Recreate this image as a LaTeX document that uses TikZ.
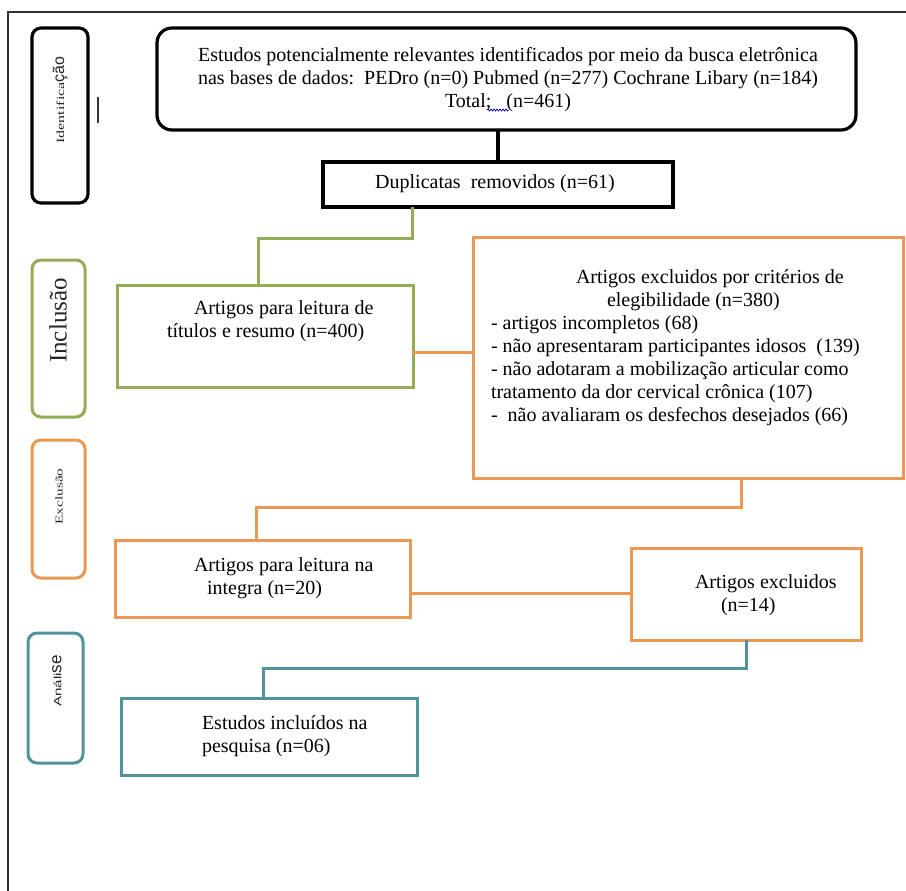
\documentclass[tikz,border=0pt]{standalone}
\usepackage{fontspec}
\setmainfont{Liberation Serif}
\newfontfamily\lsans{Liberation Sans}
\usetikzlibrary{calc,decorations.pathmorphing}
\definecolor{grn}{RGB}{148,172,86}
\definecolor{org}{RGB}{234,152,82}
\definecolor{tealc}{RGB}{82,146,158}
\begin{document}
\begin{tikzpicture}[x=1pt,y=-1pt,
  every node/.style={inner sep=0pt, outer sep=0pt},
  blkbox/.style={draw=black, line width=3.2pt, rectangle},
  grnbox/.style={draw=grn, line width=3pt, rectangle},
  orgbox/.style={draw=org, line width=3pt, rectangle},
  tealbox/.style={draw=tealc, line width=3pt, rectangle},
  blkline/.style={draw=black, line width=3.2pt},
  grnline/.style={draw=grn, line width=3pt},
  orgline/.style={draw=org, line width=3pt},
  tealline/.style={draw=tealc, line width=3pt},
  txt/.style={font=\fontsize{20}{23}\selectfont, text=black},
  lbl/.style={rotate=90, text=black!85}
]
\useasboundingbox (0,0) rectangle (906,891);

% outer frame
\draw[line width=1.5pt, black!80] (906,12) -- (8,12) -- (8,891);
\draw[line width=1.5pt, black!80] (98,97) -- (98,123);

% side labels
\node[blkbox, rounded corners=9pt, minimum width=56pt, minimum height=175pt] (idlab) at (60,115.5) {};
\node[grnbox, rounded corners=9pt, minimum width=53pt, minimum height=157pt] (inclab) at (58.5,338.5) {};
\node[orgbox, rounded corners=9pt, minimum width=53pt, minimum height=138pt] (exclab) at (58.5,509) {};
\node[tealbox, rounded corners=9pt, minimum width=55pt, minimum height=130pt] (analab) at (55.5,698) {};

\node[lbl] (idtxt) at (60,100) {\scalebox{1.45}[1]{\fontsize{11}{13}\selectfont Identifica}{\lsans\fontsize{16}{18}\selectfont ção}};
\node[lbl] (inctxt) at (58,320.5) {\fontsize{25}{28}\selectfont Inclusão};
\node[lbl] (exctxt) at (59,496.5) {\scalebox{1.45}[1]{\fontsize{10.5}{12}\selectfont Exclusão}};
\node[lbl] (anatxt) at (57,681) {\lsans\scalebox{1.45}[1]{\fontsize{10.5}{12}\selectfont Análi}\fontsize{17}{19}\selectfont se};

% main boxes
\node[blkbox, rounded corners=15pt, minimum width=699pt, minimum height=102pt] (top) at (506.5,79) {};
\node[blkbox, minimum width=350pt, minimum height=45pt] (dup) at (498,184.5) {};
\node[grnbox, minimum width=296pt, minimum height=102pt] (tit) at (265,336) {};
\node[orgbox, minimum width=430pt, minimum height=241pt] (big) at (688,357.5) {};
\node[orgbox, minimum width=295pt, minimum height=77pt] (full) at (262.5,578.5) {};
\node[orgbox, minimum width=230pt, minimum height=92pt] (ex14) at (746,594) {};
\node[tealbox, minimum width=296pt, minimum height=77pt] (incl) at (269,736.5) {};

% texts
\node[txt, align=center] (toptxt) at (508,80) {Estudos potencialmente relevantes identificados por meio da busca eletrônica\\
nas bases de dados:\ \ PEDro (n=0) Pubmed (n=277) Cochrane Libary (n=184)\\
Total;\ \ \ (n=461)};
\draw[blue!70!black, line width=0.7pt, decorate, decoration={snake, amplitude=1pt, segment length=3pt}] (487,110) -- (509,110);
\node[txt] (duptxt) at (495,184) {Duplicatas\ \ removidos (n=61)};
\node[txt, align=left, anchor=west] (tittxt) at (167,321.5) {\hspace*{27pt}Artigos para leitura de\\títulos e resumo (n=400)};
\node[txt, align=left, anchor=west] (bigtxt) at (491,348) {\hspace*{85pt}Artigos excluidos por critérios de\\
\hspace*{116pt}elegibilidade (n=380)\\
- artigos incompletos (68)\\
- não apresentaram participantes idosos\ \ (139)\\
- não adotaram a mobilização articular como\\
tratamento da dor cervical crônica (107)\\
-\ \ não avaliaram os desfechos desejados (66)};
\node[txt, align=left, anchor=west] (fulltxt) at (194,578.5) {Artigos para leitura na\\\hspace*{13pt}integra (n=20)};
\node[txt, align=left, anchor=west] (ex14txt) at (695,595.5) {Artigos excluidos\\\hspace*{26pt}(n=14)};
\node[txt, align=left, anchor=west] (incltxt) at (202,736) {Estudos incluídos na\\pesquisa (n=06)};

% connectors
\coordinate (g1) at (412,238);
\coordinate (o1) at (413,352);
\coordinate (o2) at (741,507);
\coordinate (o3) at (413,593);
\coordinate (t1) at (746,668);
\draw[blkline] (top.south -| dup.north) -- (dup.north);
\draw[grnline] (dup.south -| g1) -- (g1) -| ($(tit.north)+(-7,0)$);
\draw[orgline] (tit.east |- o1) -- (big.west |- o1);
\draw[orgline] (big.south -| o2) -- (o2) -| ($(full.north)+(-6.5,0)$);
\draw[orgline] (full.east |- o3) -- (ex14.west |- o3);
\draw[tealline] (ex14.south) -- (t1) -| ($(incl.north)+(-6,0)$);
\end{tikzpicture}
\end{document}
